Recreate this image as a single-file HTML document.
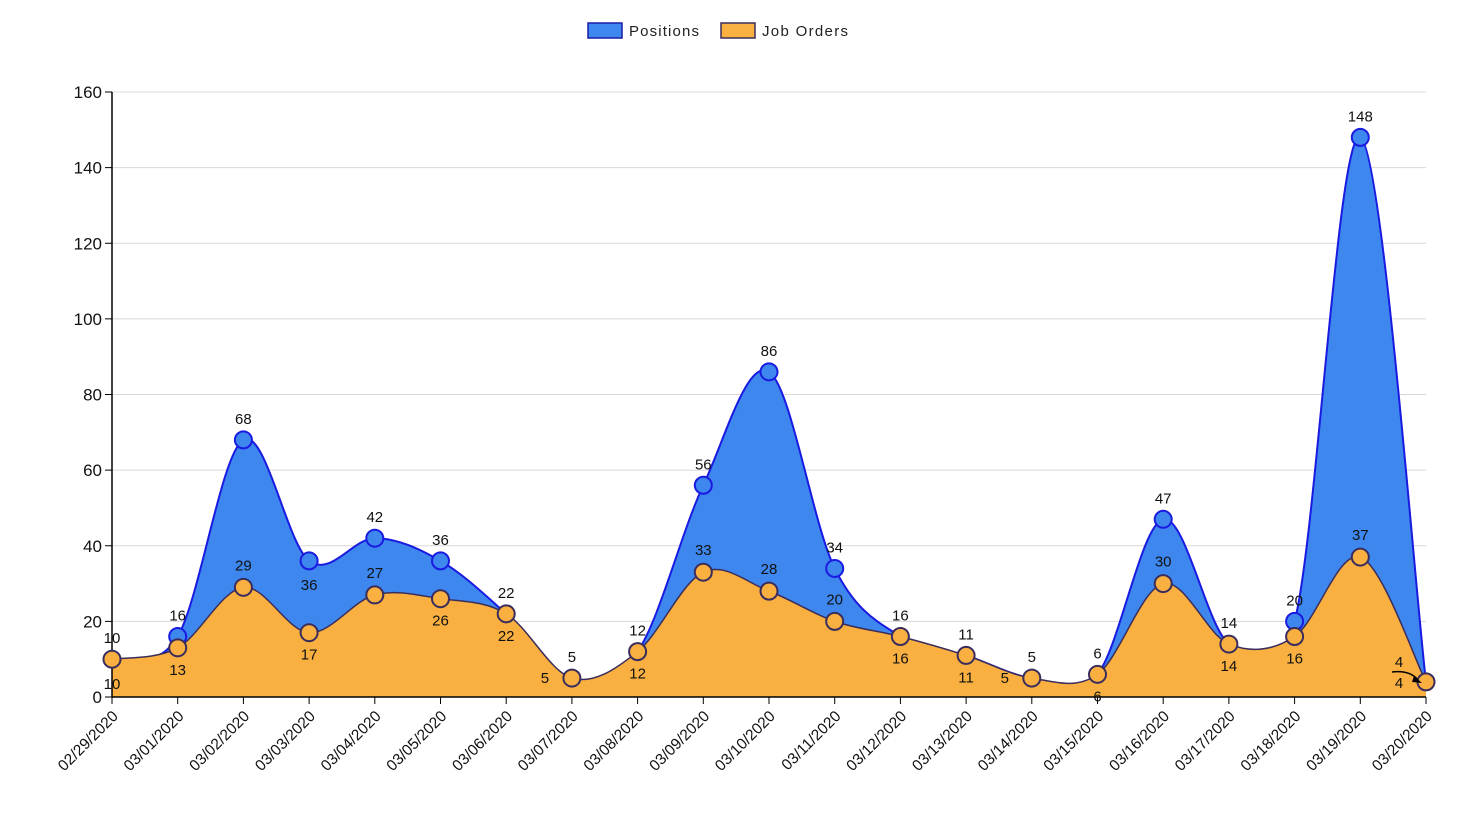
<!DOCTYPE html>
<html><head><meta charset="utf-8"><style>
html,body{margin:0;padding:0;background:#fff;}
svg{display:block;font-family:"Liberation Sans",Arial,sans-serif;}
</style></head><body>
<svg id="c" width="1482" height="816" xmlns="http://www.w3.org/2000/svg">
<g id="legend">
<rect x="588" y="23" width="34" height="15" fill="#3d87ef" stroke="#1c1ca8" stroke-width="1.5"/>
<text x="629" y="36" font-size="15" fill="#222" textLength="70">Positions</text>
<rect x="721" y="23" width="34" height="15" fill="#f9b040" stroke="#3a2d5c" stroke-width="1.5"/>
<text x="762" y="36" font-size="15" fill="#222" textLength="86">Job Orders</text>
</g>
</svg>
<script>
var P=[10,16,68,36,42,36,22,5,12,56,86,34,16,11,5,6,47,14,20,148,4];
var J=[10,13,29,17,27,26,22,5,12,33,28,20,16,11,5,6,30,14,16,37,4];
var D=["02/29/2020","03/01/2020","03/02/2020","03/03/2020","03/04/2020","03/05/2020","03/06/2020","03/07/2020","03/08/2020","03/09/2020","03/10/2020","03/11/2020","03/12/2020","03/13/2020","03/14/2020","03/15/2020","03/16/2020","03/17/2020","03/18/2020","03/19/2020","03/20/2020"];
var x0=112,x1=1426,y0=697,sc=605/160,dx=(x1-x0)/20;
function X(i){return x0+i*dx}function Y(v){return y0-v*sc}
var s='';
for(var t=0;t<=160;t+=20){var y=Y(t);
 if(t>0)s+='<line x1="'+x0+'" x2="'+x1+'" y1="'+y+'" y2="'+y+'" stroke="#d8d8d8" stroke-width="1"/>';
 s+='<line x1="'+(x0-7)+'" x2="'+x0+'" y1="'+y+'" y2="'+y+'" stroke="#000"/>';
 s+='<text x="'+(x0-10)+'" y="'+(y+6)+'" font-size="17" text-anchor="end" fill="#111">'+t+'</text>';}
function path(a){var p=a.map(function(v,i){return [X(i),Y(v)]});var d='M'+p[0][0]+','+p[0][1];
 for(var i=0;i<p.length-1;i++){var p0=p[Math.max(0,i-1)],p1=p[i],p2=p[i+1],p3=p[Math.min(p.length-1,i+2)];
 var c1x=p1[0]+(p2[0]-p0[0])/6,c1y=p1[1]+(p2[1]-p0[1])/6,c2x=p2[0]-(p3[0]-p1[0])/6,c2y=p2[1]-(p3[1]-p1[1])/6;
 d+=' C'+c1x+','+c1y+' '+c2x+','+c2y+' '+p2[0]+','+p2[1];}return d;}
var dp=path(P),dj=path(J),close=' L'+x1+','+y0+' L'+x0+','+y0+' Z';
s+='<path d="'+dp+close+'" fill="#3d87ef"/><path d="'+dp+'" fill="none" stroke="#1a1ae0" stroke-width="2"/>';
s+='<path d="'+dj+close+'" fill="#f9b040"/><path d="'+dj+'" fill="none" stroke="#3a2d5c" stroke-width="1.5"/>';
s+='<line x1="'+x0+'" x2="'+x0+'" y1="92" y2="'+y0+'" stroke="#000" stroke-width="1.5"/>';
s+='<line x1="'+x0+'" x2="'+x1+'" y1="'+y0+'" y2="'+y0+'" stroke="#000" stroke-width="1.5"/>';
for(var i=0;i<21;i++){var x=X(i);
 s+='<line x1="'+x+'" x2="'+x+'" y1="'+y0+'" y2="'+(y0+7)+'" stroke="#000"/>';
 s+='<text transform="translate('+(x+7)+','+(y0+20)+') rotate(-45)" font-size="15.5" text-anchor="end" fill="#111">'+D[i]+'</text>';
 if(P[i]!==J[i])s+='<circle cx="'+x+'" cy="'+Y(P[i])+'" r="8.5" fill="#3d87ef" stroke="#1a1ae0" stroke-width="2"/>';
 s+='<circle cx="'+x+'" cy="'+Y(J[i])+'" r="8.5" fill="#f9b040" stroke="#3a2d5c" stroke-width="2"/>';}
var jAbove={2:1,4:1,9:1,10:1,11:1,16:1,19:1};
for(var i=0;i<21;i++){var x=X(i);
 var py=Y(P[i])-16,jy=jAbove[i]?Y(J[i])-17:Y(J[i])+27;
 var px=x,jx=x;
 if(i==3)py=Y(P[i])+29;
 if(i==7){jx=x-27;jy=Y(J[i])+5;}
 if(i==14){jx=x-27;jy=Y(J[i])+5;}
 if(i==20){px=x-27;py=Y(P[i])-15;jx=x-27;jy=Y(J[i])+6;}
 if(i==0){jy=Y(J[i])+30;}
 s+='<text x="'+px+'" y="'+py+'" font-size="15" text-anchor="middle" fill="#111">'+P[i]+'</text>';
 s+='<text x="'+jx+'" y="'+jy+'" font-size="15" text-anchor="middle" fill="#111">'+J[i]+'</text>';}
s+='<path d="M1392,672 Q1410,670 1418,680" fill="none" stroke="#000" stroke-width="1.5"/><path d="M1414,676 L1422,683 L1412,682 Z" fill="#000"/>';
document.getElementById('c').insertAdjacentHTML('afterbegin',s);
</script>
</body></html>
